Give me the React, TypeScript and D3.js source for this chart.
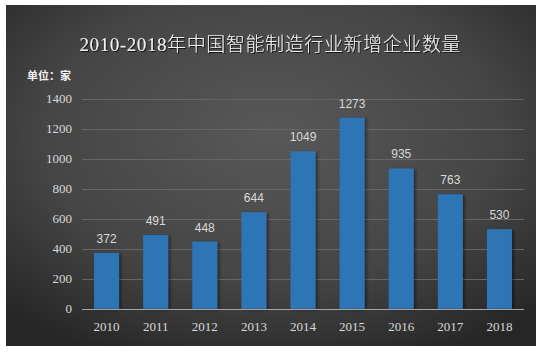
import React from "react";
import * as d3 from "d3";

const categories = ["2010", "2011", "2012", "2013", "2014", "2015", "2016", "2017", "2018"];
const values = [372, 491, 448, 644, 1049, 1273, 935, 763, 530];
const yTicks = [0, 200, 400, 600, 800, 1000, 1200, 1400];
const title = "2010-2018年中国智能制造行业新增企业数量";
const unitLabel = "单位：家";

export default function App() {
  const W = 545, H = 352;
  const left = 82, right = 524, top = 98.7, bottom = 308.7;
  const x = d3.scaleBand<string>().domain(categories).range([left, right]).paddingInner(0.49).paddingOuter(0.245);
  const y = d3.scaleLinear().domain([0, 1400]).range([bottom, top]);
  const serif = '"Liberation Serif", "Noto Sans CJK SC", serif';
  const sans = '"Liberation Sans", "Noto Sans", sans-serif';
  return (
    <svg width={W} height={H} style={{ position: "absolute", left: 0, top: 0 }}>
      <defs>
        <radialGradient id="bg" cx="50%" cy="38%" r="72%">
          <stop offset="0%" stopColor="#585858" />
          <stop offset="60%" stopColor="#454545" />
          <stop offset="100%" stopColor="#262626" />
        </radialGradient>
        <filter id="sh" x="-20%" y="-20%" width="150%" height="140%">
          <feDropShadow dx="2" dy="1" stdDeviation="1.5" floodColor="#000" floodOpacity="0.45" />
        </filter>
        <filter id="tsh" x="-5%" y="-20%" width="110%" height="150%">
          <feDropShadow dx="1" dy="1" stdDeviation="0.6" floodColor="#000" floodOpacity="0.7" />
        </filter>
      </defs>
      <rect x={0} y={0} width={W} height={H} fill="#fff" />
      <rect x={6} y={5} width={530} height={341} fill="url(#bg)" />
      <text x={270} y={51} textAnchor="middle" fontFamily={serif} fontSize={19} fontWeight={300} letterSpacing={0} fill="#f2f2f2" filter="url(#tsh)" textLength={381} lengthAdjust="spacing">{title}</text>
      <text x={27} y={80} fontFamily='"Noto Sans CJK SC", sans-serif' fontWeight="bold" fontSize={11} fill="#f2f2f2">{unitLabel}</text>
      {yTicks.map((t) => (
        <g key={t}>
          {t !== 0 && <line x1={left} x2={right} y1={Math.round(y(t)) + 0.5} y2={Math.round(y(t)) + 0.5} stroke="#666" strokeWidth={1} />}
          <text x={72} y={y(t) + 4.5} textAnchor="end" fontFamily={serif} fontSize={13} fill="#d9d9d9">{t}</text>
        </g>
      ))}
      {categories.map((c, i) => (
        <g key={c}>
          <rect x={x(c)} y={y(values[i])} width={x.bandwidth()} height={bottom - y(values[i])} fill="#2e75b6" filter="url(#sh)" />
          <text x={(x(c) as number) + x.bandwidth() / 2} y={y(values[i]) - 10} textAnchor="middle" fontFamily={sans} fontSize={12} fill="#d9d9d9">{values[i]}</text>
          <text x={(x(c) as number) + x.bandwidth() / 2} y={331} textAnchor="middle" fontFamily={serif} fontSize={13} fill="#d9d9d9">{c}</text>
        </g>
      ))}
      <line x1={left} x2={right} y1={Math.round(bottom) + 0.5} y2={Math.round(bottom) + 0.5} stroke="#a6a6a6" strokeWidth={1} />
    </svg>
  );
}
